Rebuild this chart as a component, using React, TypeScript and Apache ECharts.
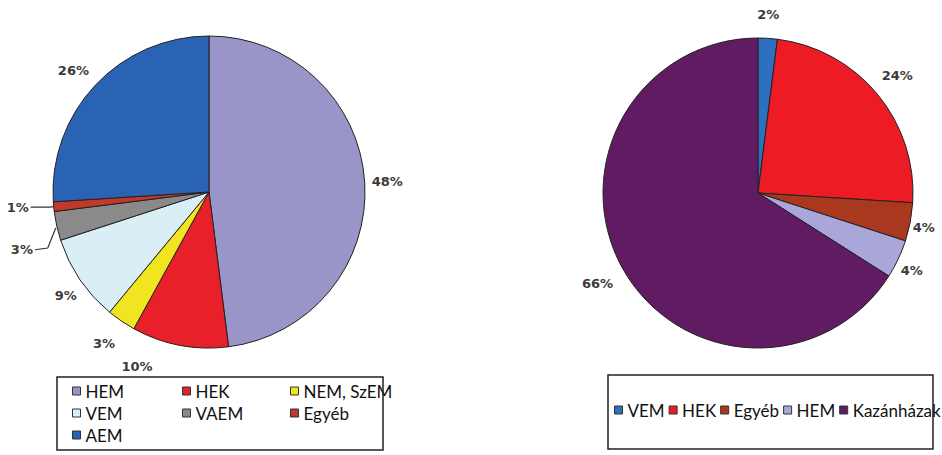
import React, { useEffect, useRef } from 'react';
import * as echarts from 'echarts';

// ---- data ----
const leftCategories = ['HEM', 'HEK', 'NEM, SzEM', 'VEM', 'VAEM', 'Egyéb', 'AEM'];
const leftValues = [48, 10, 3, 9, 3, 1, 26];
const rightCategories = ['VEM', 'HEK', 'Egyéb', 'HEM', 'Kazánházak'];
const rightValues = [2, 24, 4, 4, 66];

// legend layout (columns of the left legend, one row for the right one)
const leftLegendCols = [['HEM', 'VEM', 'AEM'], ['HEK', 'VAEM'], ['NEM, SzEM', 'Egyéb']];
const rightLegendItems = ['VEM', 'HEK', 'Egyéb', 'HEM', 'Kazánházak'];

// ---- styles ----
const leftColors = ['#9995c9', '#e8202a', '#f0e51e', '#d9eff5', '#8a8a8a', '#c0392b', '#2b63b4'];
const rightColors = ['#2e6fbf', '#ed1c24', '#a9381f', '#aaa6da', '#611b63'];

// label tuning: [labelLine length, length2, show line]
const leftLabelTune: [number, number, boolean][] = [
  [8, -3, false],
  [22, 21, false],
  [27, -11, false],
  [28, -22, false],
  [8, 14, true],
  [4, 19, true],
  [21, -11, false],
];
const rightLabelTune: [number, number, boolean][] = [
  [24, -14, false],
  [29, -20, false],
  [27, -26, false],
  [26, -23, false],
  [32, -21, false],
];

const labelFont = {
  fontFamily: 'DejaVu Sans',
  fontWeight: 'bold' as const,
  fontSize: 13,
  color: '#3b3b3b',
};
const legendText = { fontFamily: 'Lato', fontSize: 17, color: '#111', lineHeight: 18 };

export default function App() {
  const ref = useRef<HTMLDivElement>(null);
  useEffect(() => {
    if (!ref.current) return;
    const chart = echarts.init(ref.current, null, { renderer: 'svg' });

    const mkData = (cats: string[], vals: number[], colors: string[], tune: [number, number, boolean][]) =>
      cats.map((name, i) => ({
        name,
        value: vals[i],
        itemStyle: { color: colors[i] },
        labelLine: { show: tune[i][2], length: tune[i][0], length2: tune[i][1] },
      }));

    const colorOf = (name: string, cats: string[], colors: string[]) => colors[cats.indexOf(name)];

    const legendBase = {
      icon: 'rect',
      itemWidth: 8,
      itemHeight: 8,
      padding: 0,
      selectedMode: false,
      textStyle: legendText,
      itemStyle: { borderColor: '#333', borderWidth: 1 },
    };

    const leftColX = [72, 182, 290];
    const legends: any[] = leftLegendCols.map((col, ci) => ({
      ...legendBase,
      orient: 'vertical',
      left: leftColX[ci],
      top: 382,
      itemGap: 4,
      data: col.map((n) => ({ name: n, itemStyle: { color: colorOf(n, leftCategories, leftColors) } })),
    }));
    legends.push({
      ...legendBase,
      orient: 'horizontal',
      left: 614,
      top: 401,
      width: 600,
      itemGap: 4,
      data: rightLegendItems.map((n) => ({ name: n, itemStyle: { color: colorOf(n, rightCategories, rightColors) } })),
    });

    const seriesBase = {
      type: 'pie',
      startAngle: 90,
      clockwise: true,
      avoidLabelOverlap: false,
      itemStyle: { borderColor: '#222', borderWidth: 1 },
      label: { show: true, position: 'outside', formatter: '{c}%', distanceToLabelLine: 2, ...labelFont },
      labelLine: { lineStyle: { color: '#333', width: 1.2 } },
      emphasis: { disabled: true },
    };

    chart.setOption({
      animation: false,
      backgroundColor: '#ffffff',
      legend: legends,
      graphic: [
        { type: 'rect', shape: { x: 57, y: 377, width: 326, height: 73 }, style: { fill: 'none', stroke: '#222', lineWidth: 1.5 } },
        { type: 'rect', shape: { x: 608, y: 375, width: 325, height: 74 }, style: { fill: 'none', stroke: '#222', lineWidth: 1.5 } },
      ],
      series: [
        {
          ...seriesBase,
          name: 'left',
          center: [209, 192],
          radius: 156,
          data: mkData(leftCategories, leftValues, leftColors, leftLabelTune),
          labelLayout: (p: any) => {
            if (p.dataIndex !== 4 || !p.labelLinePoints) return {};
            const pts = p.labelLinePoints;
            const drop = 22;
            return {
              dy: drop,
              labelLinePoints: [
                [pts[0][0] - 1, pts[0][1] + 2],
                [pts[0][0] - 9, pts[0][1] + drop],
                [pts[2][0], pts[2][1] + drop],
              ],
            };
          },
        },
        {
          ...seriesBase,
          name: 'right',
          center: [758, 193],
          radius: 155,
          data: mkData(rightCategories, rightValues, rightColors, rightLabelTune),
        },
      ],
    });
    return () => chart.dispose();
  }, []);
  return <div ref={ref} style={{ position: 'fixed', left: 0, top: 0, width: 942, height: 455 }} />;
}
